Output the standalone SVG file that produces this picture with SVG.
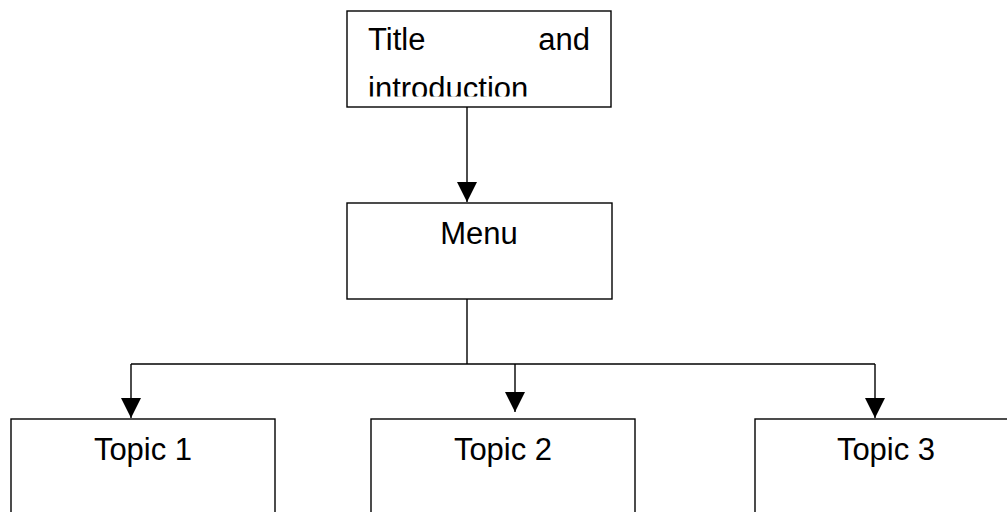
<svg xmlns="http://www.w3.org/2000/svg" width="1007" height="512" viewBox="0 0 1007 512">
<style>
.box{fill:#fff;stroke:#000;stroke-width:1.4}
.lbl{font-family:"Liberation Sans",Arial,sans-serif;font-size:31px;fill:#000}
.c{text-anchor:middle}
.conn{fill:none;stroke:#000;stroke-width:1.4}
</style>
<defs>
<marker id="ah" markerWidth="20" markerHeight="20" viewBox="0 0 20 20" refX="20" refY="10" orient="auto" markerUnits="userSpaceOnUse">
<path d="M0,0 L20,10 L0,20 Z" fill="#000"/>
</marker>
<clipPath id="tclip"><rect x="347" y="11" width="264" height="85.5"/></clipPath>
</defs>
<rect width="1007" height="512" fill="#fff"/>
<g id="connectors">
<path class="conn" d="M467,107 V202" marker-end="url(#ah)"/>
<path class="conn" d="M467,299 V364"/>
<path class="conn" d="M131,364 H875"/>
<path class="conn" d="M131,364 V418" marker-end="url(#ah)"/>
<path class="conn" d="M515,364 V412" marker-end="url(#ah)"/>
<path class="conn" d="M875,364 V418" marker-end="url(#ah)"/>
</g>
<g id="title">
<rect class="box" x="347" y="11" width="264" height="96"/>
<g clip-path="url(#tclip)">
<text class="lbl" x="368" y="49.5">Title</text>
<text class="lbl" x="590" y="49.5" text-anchor="end">and</text>
<text class="lbl" x="368" y="98.5">introduction</text>
</g>
</g>
<g id="menu">
<rect class="box" x="347" y="203" width="265" height="96"/>
<text class="lbl c" x="479" y="244">Menu</text>
</g>
<g id="topic1">
<rect class="box" x="11" y="419" width="264" height="110"/>
<text class="lbl c" x="143" y="460">Topic 1</text>
</g>
<g id="topic2">
<rect class="box" x="371" y="419" width="264" height="110"/>
<text class="lbl c" x="503" y="460">Topic 2</text>
</g>
<g id="topic3">
<rect class="box" x="755" y="419" width="264" height="110"/>
<text class="lbl c" x="886" y="460">Topic 3</text>
</g>
</svg>
